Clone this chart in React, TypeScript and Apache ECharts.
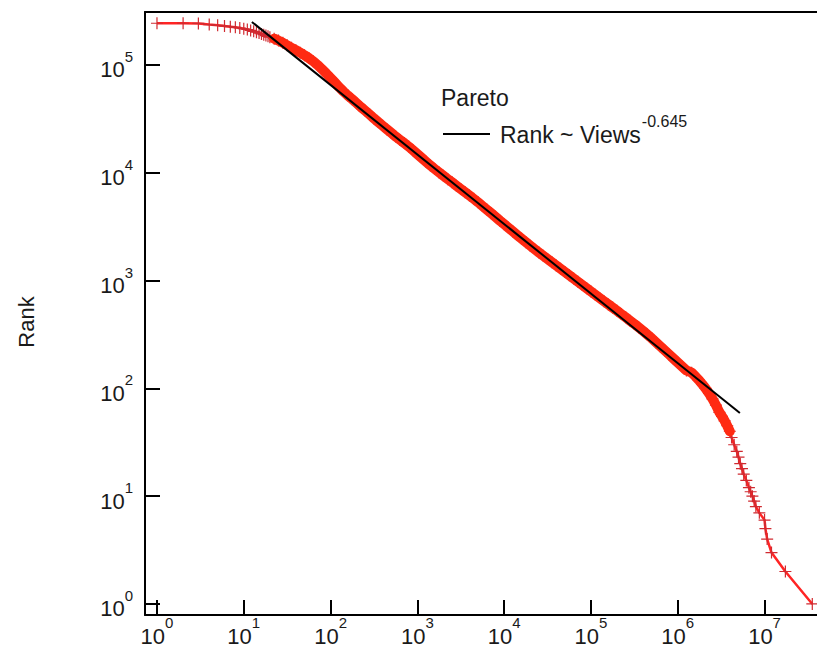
import React, { useEffect, useRef } from 'react';
import * as echarts from 'echarts';

// log10(views) of each plotted point
const viewsExp = [
  0, 0.301, 0.477, 0.602, 0.699, 0.778, 0.845, 0.903, 0.954, 1.0,
  1.041, 1.079, 1.114, 1.146, 1.176, 1.204, 1.23, 1.255, 1.279, 1.301,
  1.35, 1.4, 1.45, 1.5, 1.55, 1.6, 1.65, 1.7, 1.75, 1.8, 1.85, 1.9, 1.95, 2.0, 2.05, 2.1,
  2.15, 2.2, 2.25, 2.3, 2.35, 2.4, 2.45, 2.5, 2.55, 2.6, 2.65, 2.7, 2.75, 2.8, 2.85, 2.9, 2.95,
  3.0, 3.05, 3.1, 3.15, 3.2, 3.25, 3.3, 3.35, 3.4, 3.45, 3.5, 3.55, 3.6, 3.65, 3.7, 3.75, 3.8,
  3.85, 3.9, 3.95, 4.0, 4.05, 4.1, 4.15, 4.2, 4.25, 4.3, 4.35, 4.4, 4.45, 4.5, 4.55, 4.6, 4.65,
  4.7, 4.75, 4.8, 4.85, 4.9, 4.95, 5.0, 5.05, 5.1, 5.15, 5.2, 5.25, 5.3, 5.35, 5.4, 5.45, 5.5,
  5.55, 5.6, 5.65, 5.7, 5.75, 5.8, 5.85, 5.9, 5.95, 6.0, 6.05, 6.1,
  6.16, 6.2, 6.24, 6.28, 6.32, 6.36, 6.4, 6.44, 6.48, 6.51, 6.54, 6.57, 6.6, 6.62, 6.65, 6.68,
  6.7, 6.72, 6.74, 6.76, 6.79, 6.82, 6.84, 6.86, 6.88, 6.9, 6.94, 7.0, 7.01, 7.03, 7.08, 7.24, 7.55,
];

// log10(rank) of each plotted point
const rankExp = [
  5.387, 5.387, 5.385, 5.375, 5.368, 5.361, 5.355, 5.349, 5.343, 5.336,
  5.329, 5.32, 5.312, 5.304, 5.296, 5.288, 5.281, 5.273, 5.266, 5.258,
  5.244, 5.226, 5.206, 5.183, 5.16, 5.137, 5.114, 5.09, 5.064, 5.035, 5.0, 4.962, 4.922, 4.88, 4.837, 4.793,
  4.753, 4.716, 4.682, 4.646, 4.609, 4.575, 4.54, 4.504, 4.47, 4.436, 4.402, 4.369, 4.336, 4.305, 4.275, 4.243, 4.208,
  4.173, 4.138, 4.103, 4.068, 4.035, 4.003, 3.972, 3.941, 3.911, 3.88, 3.85, 3.819, 3.789, 3.758, 3.726, 3.692, 3.659,
  3.625, 3.591, 3.556, 3.523, 3.489, 3.456, 3.422, 3.389, 3.356, 3.324, 3.292, 3.261, 3.231, 3.201, 3.17, 3.14, 3.11,
  3.08, 3.049, 3.019, 2.989, 2.959, 2.928, 2.898, 2.868, 2.838, 2.808, 2.779, 2.749, 2.72, 2.689, 2.659, 2.628, 2.598,
  2.565, 2.533, 2.499, 2.464, 2.426, 2.389, 2.352, 2.315, 2.277, 2.24, 2.203, 2.166,
  2.146, 2.114, 2.079, 2.041, 2.0, 1.954, 1.903, 1.845, 1.778, 1.74, 1.699, 1.653, 1.602, 1.544, 1.477, 1.415,
  1.362, 1.301, 1.255, 1.204, 1.146, 1.079, 1.041, 1.0, 0.954, 0.903, 0.845, 0.778, 0.699, 0.602, 0.477, 0.301, 0,
];

// Fitted power law: Rank ~ Views^-0.645 (end points of the black line)
const fitViews = [12.4, 5.2e6];
const fitRank = [250600, 59.2];

// Stretch of the curve where the '+' marks merge into a solid band (log10 views)
const denseFrom = 1.35;
const denseTo = 6.6;

const xRange = [0.7278, 4.02e7];
const yRange = [0.79, 3.1e5];

const FONT = '"Liberation Sans", Arial, Helvetica, sans-serif';
const TEXT = '#1a1a1a';

const expLabel = (v: number) => {
  const e = Math.log10(v);
  const r = Math.round(e);
  if (Math.abs(e - r) > 1e-6) return '';
  return `{b|10}{s|${r}}`;
};

const labelRich = {
  b: { fontSize: 22, lineHeight: 22, padding: [10, 0, 0, 0], fontFamily: FONT, color: TEXT },
  s: { fontSize: 15, lineHeight: 15, padding: [0, 0, 17, 0], fontFamily: FONT, color: TEXT },
};

const crossPath = 'path://M0,6L12,6M6,0L6,12';

export default function App() {
  const ref = useRef<HTMLDivElement>(null);
  useEffect(() => {
    document.body.style.margin = '0';
    const chart = echarts.init(ref.current!, null, { renderer: 'svg' });
    const points = viewsExp.map((x, i) => [Math.pow(10, x), Math.pow(10, rankExp[i])]);
    const dense = points.filter((_, i) => viewsExp[i] >= denseFrom && viewsExp[i] <= denseTo);
    const fit = fitViews.map((v, i) => [v, fitRank[i]]);
    const axisLine = { show: true, lineStyle: { color: '#000', width: 2 } };
    chart.setOption({
      animation: false,
      backgroundColor: '#fff',
      grid: { left: 145, top: 12, right: 0, bottom: 48, containLabel: false },
      xAxis: [
        {
          type: 'log',
          min: xRange[0],
          max: xRange[1],
          axisLine,
          axisTick: { show: true, inside: true, length: 15, lineStyle: { color: '#000', width: 2 } },
          minorTick: { show: false },
          splitLine: { show: false },
          axisLabel: { formatter: expLabel, rich: labelRich, margin: 5, showMinLabel: false, showMaxLabel: false },
        },
        {
          type: 'log',
          position: 'top',
          min: xRange[0],
          max: xRange[1],
          axisLine,
          axisTick: { show: false },
          splitLine: { show: false },
          axisLabel: { show: false },
        },
      ],
      yAxis: {
        type: 'log',
        min: yRange[0],
        max: yRange[1],
        axisLine,
        axisTick: { show: true, inside: true, length: 15, lineStyle: { color: '#000', width: 2 } },
        minorTick: { show: false },
        splitLine: { show: false },
        axisLabel: { formatter: expLabel, rich: labelRich, margin: 12, showMinLabel: false, showMaxLabel: false },
      },
      series: [
        {
          name: 'Views',
          type: 'line',
          data: points,
          symbol: crossPath,
          symbolSize: 12,
          showAllSymbol: true,
          lineStyle: { color: '#ff2424', width: 2.5 },
          itemStyle: { color: '#d02a30', borderColor: '#d02a30', borderWidth: 1.2 },
          z: 1,
        },
        {
          name: 'band',
          type: 'line',
          data: dense,
          symbol: 'none',
          lineStyle: { color: '#ff2a12', width: 10, cap: 'round', join: 'round' },
          silent: true,
          z: 2,
        },
        {
          name: 'Pareto',
          type: 'line',
          data: fit,
          symbol: 'none',
          lineStyle: { color: '#000', width: 2 },
          z: 3,
        },
      ],
      graphic: [
        {
          type: 'text',
          x: 26,
          y: 322,
          rotation: Math.PI / 2,
          style: { text: 'Rank', fontSize: 22, fontFamily: FONT, fill: TEXT, align: 'center', verticalAlign: 'middle' },
        },
        {
          type: 'text',
          left: 441,
          top: 86,
          style: { text: 'Pareto', fontSize: 23, fontFamily: FONT, fill: TEXT },
        },
        {
          type: 'line',
          shape: { x1: 443, y1: 134, x2: 490, y2: 134 },
          style: { stroke: '#000', lineWidth: 2 },
        },
        {
          type: 'text',
          left: 500,
          top: 113,
          style: {
            text: '{b|Rank ~ Views}{s|-0.645}',
            rich: {
              b: { fontSize: 23, lineHeight: 23, padding: [10, 0, 0, 0], fontFamily: FONT, fill: TEXT },
              s: { fontSize: 16, lineHeight: 16, padding: [0, 0, 17, 1], fontFamily: FONT, fill: TEXT },
            },
          },
        },
      ],
    });
    return () => chart.dispose();
  }, []);
  return <div ref={ref} style={{ width: 817, height: 663 }} />;
}
